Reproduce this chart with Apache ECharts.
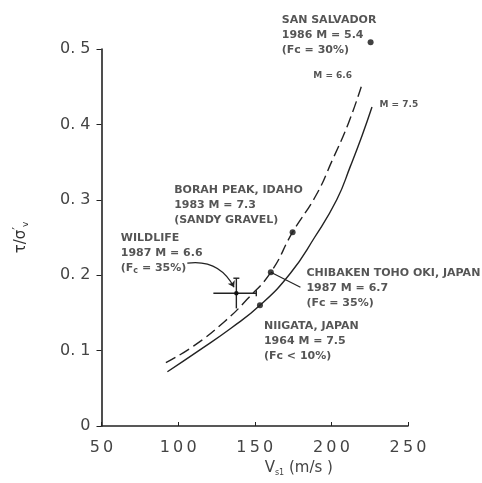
<!DOCTYPE html>
<html>
<head>
<meta charset="utf-8">
<script src="https://cdn.jsdelivr.net/npm/echarts@6/dist/echarts.min.js"></script>
<style>html,body{margin:0;padding:0;background:#fff}#c{width:482px;height:483px}</style>
</head>
<body>
<div id="c"></div>
<script>
// ---- data ----
const xTicks = [50, 100, 150, 200, 250];
const yTicks = [0, 0.1, 0.2, 0.3, 0.4, 0.5];
const curveM66 = [[92,0.084],[110,0.106],[130,0.138],[145,0.168],[160.5,0.204],[174.7,0.257],[190,0.306],[200.5,0.352],[211,0.401],[219.5,0.450]];
const curveM75 = [[93,0.072],[113.5,0.100],[134.7,0.130],[153.4,0.160],[173.4,0.203],[189,0.250],[203.5,0.300],[212.5,0.345],[220,0.385],[226.5,0.423]];
const siteNames = ['San Salvador', 'Borah Peak', 'Chibaken Toho Oki', 'Niigata'];
const siteVs1 = [225.6, 174.7, 160.5, 153.4];
const siteTau = [0.509, 0.257, 0.204, 0.160];
const wildlifePoint = [138, 0.176];
const wildlifeVs1Range = [123, 151];
const wildlifeTauRange = [0.156, 0.196];

const chart = echarts.init(document.getElementById('c'));
const FONT = 'DejaVu Sans';
const INK = '#222';

function lbl(x, y, text, extra) {
  return Object.assign({ value: [x, y], label: { formatter: text } }, extra || {});
}

const annotations = [
  lbl(167.6, 0.548, 'SAN SALVADOR\n1986 M = 5.4\n(Fc = 30%)'),
  lbl(97.4, 0.323, 'BORAH PEAK, IDAHO\n1983 M = 7.3\n(SANDY GRAVEL)'),
  lbl(62.6, 0.259, 'WILDLIFE\n1987 M = 6.6\n(F{sub|c} = 35%)'),
  lbl(183.7, 0.213, 'CHIBAKEN TOHO OKI, JAPAN\n1987 M = 6.7\n(Fc = 35%)'),
  lbl(156, 0.1426, 'NIIGATA, JAPAN\n1964 M = 7.5\n(Fc < 10%)'),
  lbl(188.2, 0.474, 'M = 6.6', { label: { formatter: 'M = 6.6', fontSize: 9 } }),
  lbl(231.4, 0.436, 'M = 7.5', { label: { formatter: 'M = 7.5', fontSize: 9 } })
];

const option = {
  animation: false,
  backgroundColor: '#fff',
  grid: { left: 101.5, right: 74, top: 49, bottom: 57 },
  xAxis: {
    type: 'value', min: xTicks[0], max: xTicks[xTicks.length - 1], interval: 50,
    axisLine: { lineStyle: { color: INK, width: 1.6 } },
    axisTick: { show: true, inside: true, length: 4, lineStyle: { color: INK } },
    splitLine: { show: false },
    axisLabel: { margin: 14, fontFamily: FONT, fontSize: 16, color: '#444',
      formatter: v => String(v).split('').join('\u2009') },
    name: '{v|V}{s|s1}{n| (m/s )}',
    nameLocation: 'middle', nameGap: 33,
    nameTextStyle: { padding: [0, 0, 0, 88],
      rich: { v: { fontFamily: FONT, fontSize: 15, color: '#444' },
              s: { fontFamily: FONT, fontSize: 8, color: '#444', padding: [10, 0, 0, 0] },
              n: { fontFamily: FONT, fontSize: 15, color: '#444' } } }
  },
  yAxis: {
    type: 'value', min: yTicks[0], max: yTicks[yTicks.length - 1], interval: 0.1,
    axisLine: { show: true, lineStyle: { color: INK, width: 1.6 } },
    axisTick: { show: true, length: 5, lineStyle: { color: INK } },
    splitLine: { show: false },
    axisLabel: { margin: 11, fontFamily: FONT, fontSize: 16, color: '#444',
      formatter: v => v === 0 ? '0' : v.toFixed(1).replace('.', '. ') },
    name: '{t|τ/σ}{p|′}{s|v}',
    nameLocation: 'middle', nameGap: 70, nameRotate: 90,
    nameTextStyle: { rich: {
      t: { fontFamily: FONT, fontSize: 15, color: '#333' },
      p: { fontFamily: FONT, fontSize: 12, color: '#333', padding: [0, 0, 8, 0] },
      s: { fontFamily: FONT, fontSize: 9, color: '#333', padding: [8, 0, 0, 0] } } }
  },
  series: [
    { name: 'M = 6.6', type: 'line', data: curveM66, smooth: true, symbol: 'none', clip: false,
      lineStyle: { color: INK, width: 1.4, type: [11, 5] } },
    { name: 'M = 7.5', type: 'line', data: curveM75, smooth: true, symbol: 'none', clip: false,
      lineStyle: { color: INK, width: 1.4 } },
    { name: 'sites', type: 'scatter', clip: false, symbolSize: 6,
      itemStyle: { color: '#111' },
      data: siteNames.map((n, i) => ({ name: n, value: [siteVs1[i], siteTau[i]] })) },
    { name: 'Wildlife', type: 'custom', clip: false,
      data: [[wildlifePoint[0], wildlifePoint[1], wildlifeVs1Range[0], wildlifeVs1Range[1], wildlifeTauRange[0], wildlifeTauRange[1]]],
      renderItem: function (params, api) {
        const c = api.coord([api.value(0), api.value(1)]);
        const l = api.coord([api.value(2), api.value(1)]);
        const r = api.coord([api.value(3), api.value(1)]);
        const b = api.coord([api.value(0), api.value(4)]);
        const t = api.coord([api.value(0), api.value(5)]);
        const st = { stroke: INK, lineWidth: 1.4 };
        return { type: 'group', children: [
          { type: 'line', shape: { x1: l[0], y1: l[1], x2: r[0], y2: r[1] }, style: st },
          { type: 'line', shape: { x1: r[0], y1: r[1] - 3, x2: r[0], y2: r[1] + 3 }, style: st },
          { type: 'line', shape: { x1: b[0], y1: b[1], x2: t[0], y2: t[1] }, style: st },
          { type: 'line', shape: { x1: t[0] - 3, y1: t[1], x2: t[0] + 3, y2: t[1] }, style: st },
          { type: 'circle', shape: { cx: c[0], cy: c[1], r: 2.2 }, style: { fill: '#111' } }
        ] };
      } },
    { name: 'pointers', type: 'lines', coordinateSystem: 'cartesian2d', clip: false,
      symbol: ['none', 'arrow'], symbolSize: 6,
      lineStyle: { color: INK, width: 1.2, opacity: 1 },
      data: [
        { coords: [[106, 0.216], [wildlifePoint[0] - 1.5, wildlifePoint[1] + 0.008]], lineStyle: { curveness: 0.35 } },
        { coords: [[179.8, 0.184], [siteVs1[2], siteTau[2]]], symbol: ['none', 'none'], lineStyle: { curveness: 0 } }
      ] },
    { name: 'annotations', type: 'scatter', clip: false, symbolSize: 0, silent: true,
      label: { show: true, position: [0, 0], align: 'left', verticalAlign: 'top',
        fontFamily: FONT, fontSize: 11, fontWeight: 'bold', lineHeight: 15, color: '#2a2a2a',
        rich: { sub: { fontFamily: FONT, fontSize: 8, fontWeight: 'bold', color: '#2a2a2a', padding: [6, 0, 0, 0] } } },
      data: annotations }
  ]
};
chart.setOption(option);
</script>
</body>
</html>
